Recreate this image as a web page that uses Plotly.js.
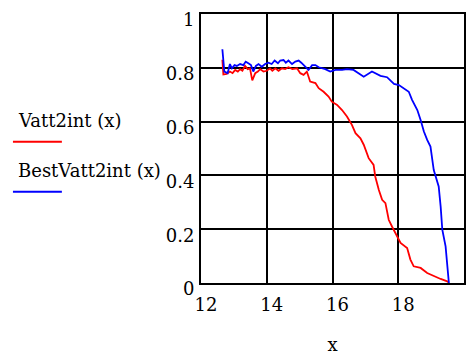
<!DOCTYPE html>
<html>
<head>
<meta charset="utf-8">
<script src="https://cdn.plot.ly/plotly-3.0.1.min.js"></script>
<style>html,body{margin:0;padding:0;background:#fff;}#chart{width:466px;height:356px;}</style>
</head>
<body>
<div id="chart"></div>
<script>
var redX = [12.65,12.68,12.78,12.88,12.96,13.04,13.12,13.19,13.26,13.34,13.42,13.49,13.56,13.65,13.73,13.80,13.90,14.00,14.10,14.17,14.26,14.36,14.46,14.56,14.66,14.78,14.92,15.02,15.12,15.22,15.32,15.48,15.58,15.73,15.88,15.98,16.14,16.29,16.44,16.59,16.70,16.85,16.95,17.05,17.10,17.25,17.30,17.41,17.51,17.61,17.71,17.81,17.97,18.07,18.27,18.37,18.47,18.68,18.88,19.08,19.29,19.49,19.54];
var redY = [0.83,0.775,0.777,0.786,0.780,0.792,0.786,0.795,0.789,0.807,0.795,0.798,0.753,0.780,0.786,0.795,0.786,0.789,0.798,0.789,0.798,0.789,0.798,0.795,0.802,0.795,0.798,0.780,0.774,0.786,0.749,0.743,0.724,0.711,0.693,0.674,0.662,0.643,0.619,0.588,0.557,0.538,0.514,0.483,0.464,0.439,0.396,0.346,0.309,0.297,0.235,0.210,0.173,0.149,0.130,0.087,0.062,0.056,0.037,0.025,0.015,0.006,0.002];
var blueX = [12.65,12.71,12.81,12.88,12.94,13.02,13.09,13.19,13.29,13.36,13.44,13.52,13.59,13.67,13.75,13.85,13.95,14.05,14.15,14.24,14.34,14.41,14.51,14.58,14.66,14.77,14.87,14.97,15.05,15.17,15.27,15.38,15.48,15.58,15.68,15.78,15.93,16.09,16.29,16.44,16.64,16.95,17.20,17.46,17.66,17.87,18.02,18.17,18.32,18.42,18.58,18.68,18.78,18.88,18.98,19.08,19.23,19.29,19.34,19.44,19.49,19.54];
var blueY = [0.869,0.786,0.780,0.814,0.798,0.810,0.807,0.814,0.810,0.823,0.817,0.810,0.786,0.807,0.814,0.804,0.814,0.819,0.814,0.827,0.817,0.827,0.829,0.819,0.827,0.814,0.823,0.827,0.819,0.804,0.792,0.810,0.810,0.802,0.798,0.795,0.786,0.792,0.792,0.795,0.792,0.767,0.786,0.770,0.765,0.740,0.736,0.724,0.711,0.681,0.643,0.606,0.563,0.532,0.507,0.420,0.359,0.284,0.198,0.136,0.074,0.0];
var xTicks = [12,14,16,18];
var yTicks = [0,0.2,0.4,0.6,0.8,1];
var seriesNames = ["Vatt2int (x)", "BestVatt2int (x)"];

var font = "DejaVu Serif";
var fs = 18;
var traces = [
  {x: redX, y: redY, mode: "lines", line: {color: "#ff0000", width: 1.8}, name: seriesNames[0], showlegend: false},
  {x: blueX, y: blueY, mode: "lines", line: {color: "#0000ff", width: 1.8}, name: seriesNames[1], showlegend: false}
];
var layout = {
  width: 466, height: 356,
  margin: {l: 201, r: 2, t: 14, b: 73},
  paper_bgcolor: "#fff", plot_bgcolor: "#fff",
  font: {family: font, color: "#000", size: fs},
  xaxis: {
    range: [12, 20], tickvals: xTicks, ticktext: xTicks.map(String),
    showgrid: true, gridcolor: "#000", gridwidth: 2,
    showline: true, linecolor: "#000", linewidth: 2, mirror: true,
    zeroline: false, ticks: "", ticklabelshift: 5, ticklabelstandoff: 4,
    ticklabeloverflow: "allow",
    tickfont: {family: font, size: fs, color: "#000"},
    title: {text: "x", font: {family: font, size: fs, color: "#000"}, standoff: 25}
  },
  yaxis: {
    range: [0, 1], tickvals: yTicks, ticktext: yTicks.map(String),
    showgrid: true, gridcolor: "#000", gridwidth: 2,
    showline: true, linecolor: "#000", linewidth: 2, mirror: true,
    zeroline: false, ticks: "", ticklabelshift: 6, ticklabelstandoff: 1,
    ticklabeloverflow: "allow",
    tickfont: {family: font, size: fs, color: "#000"}
  },
  annotations: [
    {text: seriesNames[0], xref: "paper", yref: "paper", x: -0.703, y: 0.603, xanchor: "left", yanchor: "middle", showarrow: false, font: {family: font, size: fs, color: "#000"}},
    {text: seriesNames[1], xref: "paper", yref: "paper", x: -0.703, y: 0.42, xanchor: "left", yanchor: "middle", showarrow: false, font: {family: font, size: fs, color: "#000"}}
  ],
  shapes: [
    {type: "line", xref: "paper", yref: "paper", x0: -0.715, x1: -0.529, y0: 0.525, y1: 0.525, line: {color: "#ff0000", width: 2}},
    {type: "line", xref: "paper", yref: "paper", x0: -0.715, x1: -0.529, y0: 0.339, y1: 0.339, line: {color: "#0000ff", width: 2}}
  ]
};
Plotly.newPlot("chart", traces, layout, {displayModeBar: false, staticPlot: true});
</script>
</body>
</html>
